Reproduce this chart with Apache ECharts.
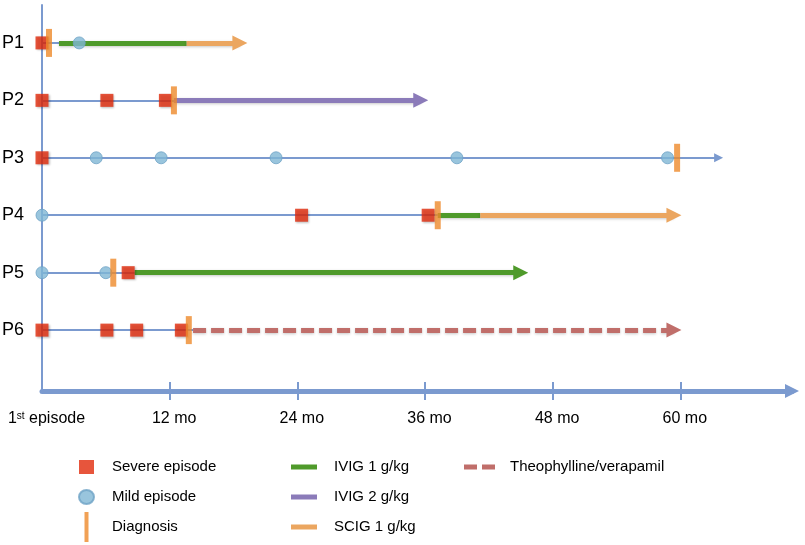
<!DOCTYPE html>
<html><head><meta charset="utf-8">
<script src="https://cdn.jsdelivr.net/npm/echarts@6/dist/echarts.min.js"></script>
<style>html,body{margin:0;padding:0;background:#fff}#c{width:805px;height:545px}</style>
</head><body><div id="c"></div>
<script>
// ---- data (months since 1st episode; index = patient row) ----
const patients = ['P1', 'P2', 'P3', 'P4', 'P5', 'P6'];
const tickMonths = [0, 12, 24, 36, 48, 60];
const severeEpisodes = [[0], [0, 6.1, 11.6], [0], [24.4, 36.3], [8.1], [0, 6.1, 8.9, 13.1]];
const mildEpisodes = [[3.5], [], [5.1, 11.2, 22.0, 39.0, 58.8], [0], [0, 6.0], []];
const diagnosisMonth = [0.66, 12.4, 59.7, 37.2, 6.7, 13.8];
const untreatedFollowUp = [null, null, 63.6, null, null, null];
const ivig1 = [[1.6, 13.6], null, null, [37.2, 41.2], [8.7, 45.0], null];
const ivig2 = [null, [12.4, 35.6], null, null, null, null];
const scig1 = [[13.6, 18.6], null, null, [41.2, 59.4], null, null];
const theophylline = [null, null, null, null, null, [14.2, 59.4]];

const AXIS = '#7b9acf';
const FONT = 'Arial, "Liberation Sans", sans-serif';
const treatments = [
  { name: 'IVIG 1 g/kg', segs: ivig1, color: '#4f9a2b', dash: 'solid' },
  { name: 'IVIG 2 g/kg', segs: ivig2, color: '#8b7bb9', dash: 'solid' },
  { name: 'SCIG 1 g/kg', segs: scig1, color: '#eba660', dash: 'solid' },
  { name: 'Theophylline/verapamil', segs: theophylline, color: '#c06e6a', dash: [13, 5] }
];
function lastEnd(i) {
  let m = -Infinity;
  treatments.forEach(t => { if (t.segs[i]) m = Math.max(m, t.segs[i][1]); });
  return m;
}
function firstStart(i) {
  let m = Infinity;
  treatments.forEach(t => { if (t.segs[i]) m = Math.min(m, t.segs[i][0]); });
  return m;
}
function points(arr) {
  const out = [];
  arr.forEach((list, i) => list.forEach(x => out.push([x, i])));
  return out;
}
const baseline = patients.map((p, i) => {
  const end = untreatedFollowUp[i] != null ? untreatedFollowUp[i] : firstStart(i);
  return {
    coords: [[0, i], [end, i]],
    symbol: untreatedFollowUp[i] != null ? ['none', 'triangle'] : ['none', 'none'],
    symbolSize: 9
  };
});
const shadow = { shadowBlur: 3, shadowColor: 'rgba(0,0,0,0.22)', shadowOffsetY: 1 };

const series = [{
  type: 'lines', name: 'Follow-up', coordinateSystem: 'cartesian2d', z: 2, silent: true,
  symbol: ['none', 'none'], symbolSize: 9,
  lineStyle: { color: AXIS, width: 2, opacity: 1 },
  data: baseline
}];
treatments.forEach(t => {
  const data = [];
  t.segs.forEach((s, i) => {
    if (!s) return;
    data.push({ coords: [[s[0], i], [s[1], i]], symbol: s[1] === lastEnd(i) ? ['none', 'triangle'] : ['none', 'none'] });
  });
  series.push({
    type: 'lines', name: t.name, coordinateSystem: 'cartesian2d', z: 3, silent: true,
    symbol: ['none', 'none'], symbolSize: 15,
    itemStyle: { color: t.color },
    lineStyle: Object.assign({ color: t.color, width: 5, type: t.dash, opacity: 1, cap: 'butt' }, shadow),
    data
  });
});
series.push({
  type: 'scatter', name: 'Mild episode', z: 5, symbol: 'circle', symbolSize: 12, silent: true,
  itemStyle: { color: '#80b6d5', borderColor: '#6ea3c6', borderWidth: 1 },
  data: points(mildEpisodes)
});
series.push({
  type: 'scatter', name: 'Severe episode', z: 6, symbol: 'rect', symbolSize: 13, silent: true,
  itemStyle: { color: '#e12a0b', shadowBlur: 2, shadowColor: 'rgba(0,0,0,0.3)', shadowOffsetX: 1, shadowOffsetY: 1 },
  data: points(severeEpisodes)
});
series.push({
  type: 'scatter', name: 'Diagnosis', z: 7, symbol: 'rect', symbolSize: [6, 28], silent: true,
  itemStyle: { color: '#ee892b' },
  data: diagnosisMonth.map((x, i) => [x, i])
});

const legendText = (pad) => ({ fontSize: 15, color: '#000', fontFamily: FONT, lineHeight: 30, padding: [0, 0, 0, pad] });
const option = {
  animation: false,
  backgroundColor: '#fff',
  grid: { left: 42, right: 13, top: 5, bottom: 154, outerBoundsMode: 'none', containLabel: false },
  xAxis: [{
    type: 'value', min: 0, max: 70.5, position: 'bottom',
    axisLine: { show: true, onZero: false, lineStyle: { color: AXIS, width: 5 }, symbol: ['none', 'triangle'], symbolSize: [14, 14] },
    axisTick: { show: true, customValues: tickMonths.slice(1), length: 9, lineStyle: { color: AXIS, width: 2 } },
    splitLine: { show: false },
    axisLabel: {
      customValues: tickMonths, margin: 20,
      formatter: v => v === 0 ? '{pad|}{n|1}{s|st}{n| episode}' : '{pad|}{n|' + v + ' mo}',
      rich: {
        pad: { width: 9 },
        n: { fontSize: 16, color: '#000', fontFamily: FONT },
        s: { fontSize: 10, color: '#000', fontFamily: FONT, verticalAlign: 'top' }
      }
    }
  }, {
    type: 'value', min: 0, max: 70.5, position: 'top', offset: -386,
    axisLine: { show: false, onZero: false },
    axisTick: { show: true, customValues: tickMonths.slice(1), length: 9, lineStyle: { color: AXIS, width: 2 } },
    axisLabel: { show: false }, splitLine: { show: false }
  }],
  yAxis: {
    type: 'value', inverse: true, min: -0.66, max: 6.06,
    axisLine: { show: true, onZero: false, lineStyle: { color: AXIS, width: 2 } },
    axisTick: { show: false }, splitLine: { show: false },
    axisLabel: { customValues: [0, 1, 2, 3, 4, 5], formatter: v => patients[v], fontSize: 18, color: '#000', fontFamily: FONT, margin: 18 }
  },
  legend: [{
    orient: 'vertical', left: 78, top: 452, padding: 0, itemWidth: 15, itemHeight: 30, itemGap: 0, selectedMode: false,
    symbolKeepAspect: true, textStyle: legendText(13),
    data: [
      { name: 'Severe episode', icon: 'path://M0,0h15v14h-15z', symbolKeepAspect: true, itemStyle: { shadowBlur: 0, shadowOffsetX: 0, shadowOffsetY: 0 } },
      { name: 'Mild episode', icon: 'path://M7,0A7,6.5 0 1 1 7,13A7,6.5 0 1 1 7,0Z', symbolKeepAspect: true },
      { name: 'Diagnosis', icon: 'path://M0,0h4v30h-4z', symbolKeepAspect: true }
    ]
  }, {
    orient: 'vertical', left: 291, top: 452, padding: 0, itemWidth: 26, itemHeight: 30, itemGap: 0, selectedMode: false,
    symbolKeepAspect: true, textStyle: legendText(12),
    data: treatments.slice(0, 3).map(t => ({ name: t.name, icon: 'path://M0,0h26v5h-26z', symbolKeepAspect: true, itemStyle: { color: t.color, borderWidth: 0 } }))
  }, {
    orient: 'vertical', left: 464, top: 452, padding: 0, itemWidth: 31, itemHeight: 30, itemGap: 0, selectedMode: false,
    symbolKeepAspect: true, textStyle: legendText(10),
    data: [{ name: treatments[3].name, icon: 'path://M0,0h13v5h-13zM18,0h13v5h-13z', symbolKeepAspect: true, itemStyle: { color: treatments[3].color, borderWidth: 0 } }]
  }],
  series
};
const chart = echarts.init(document.getElementById('c'), null, { renderer: 'canvas' });
chart.setOption(option);
</script>
</body></html>
